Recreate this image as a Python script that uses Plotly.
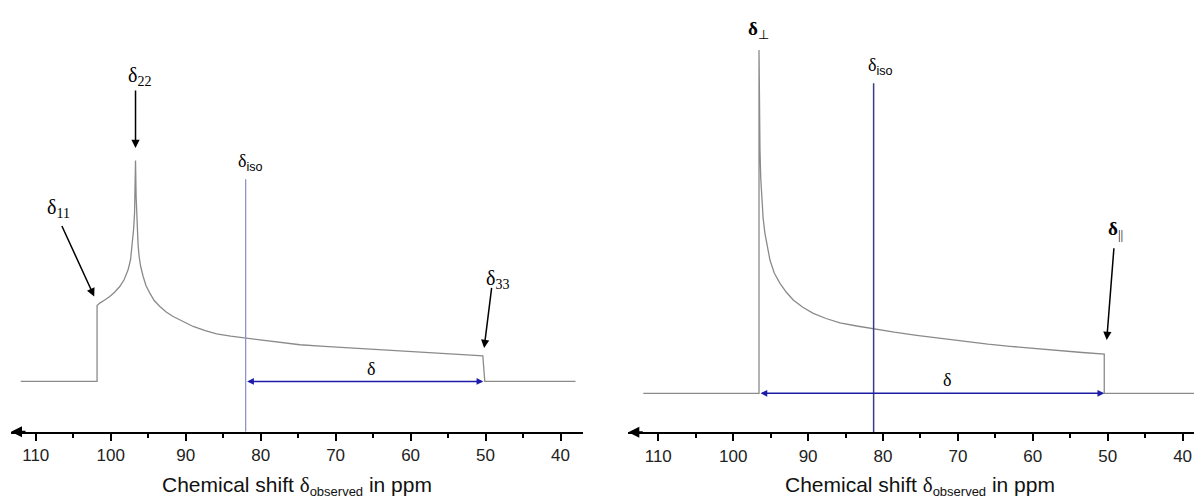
import plotly.graph_objects as go

W, H = 1194, 501

# ---------------- data ----------------
# Left panel: asymmetric CSA powder pattern (ppm, intensity)
left_ppm = [112.0, 101.82, 101.82, 101.46, 100.8, 100.12, 99.45, 98.79, 98.2, 97.68,
            97.35, 97.10, 96.95, 96.82, 96.74, 96.69, 96.61, 96.48, 96.35, 96.21,
            96.0, 95.67, 95.3, 94.78, 94.2, 93.44, 92.6, 91.67, 90.4, 89.0,
            87.5, 85.87, 84.0, 82.0, 78.5, 74.75, 71.5, 68.08, 64.7, 61.4,
            58.0, 54.7, 52.5, 50.36, 50.1, 38.0]
left_int = [0, 0, 76, 78.4, 81.5, 85, 89.5, 95, 102, 111.7,
            122, 138.4, 152, 168.4, 190, 221, 185, 151.7, 137, 125,
            115, 105, 96, 88.4, 81, 75, 69.5, 65, 60, 55,
            51, 47.7, 45.3, 43.4, 39.8, 36.7, 35, 33.4, 31.6, 30,
            28.7, 27.4, 26.5, 25.7, 0, 0]

# Right panel: axially symmetric powder pattern
right_ppm = [112.0, 96.55, 96.55, 96.50, 96.42, 96.32, 96.20, 96.0, 95.76, 95.45,
             95.09, 94.5, 93.75, 92.9, 91.98, 90.7, 89.31, 87.6, 85.74, 83.5,
             81.30, 78.5, 75.50, 72.2, 68.83, 66.0, 63.05, 59.7, 56.37, 53.4,
             50.46, 50.46, 37.0]
right_int = [0, 0, 343.3, 290, 243.3, 215, 193.3, 175, 160, 146,
             133.3, 120, 110, 101, 93.3, 86, 80, 74.8, 70.5, 67.3,
             64.5, 61.1, 58, 54.7, 51.6, 49.2, 47, 44.6, 42.5, 40.8,
             39.3, 0, 0]

# principal components
d11, d22, d33, d_iso_left = 101.82, 96.69, 50.3, 82.0
d_perp, d_par, d_iso_right = 96.55, 50.46, 81.25

tick_vals = [110, 100, 90, 80, 70, 60, 50, 40]
tick_text = ["110", "100", "90", "80", "70", "60", "50", "40"]

# ---------------- figure ----------------
SPEC = "#8a8a8a"
ARR = "#1c1ca8"
SANS = "Liberation Sans, Arial, sans-serif"
SERIF = "Liberation Serif, Times New Roman, serif"

def px(x):
    return x / W

def py(y):
    return 1 - y / H

fig = go.Figure()
fig.add_trace(go.Scatter(x=left_ppm, y=left_int, mode="lines",
                         line=dict(color=SPEC, width=1.3), xaxis="x", yaxis="y",
                         hoverinfo="skip", showlegend=False))
fig.add_trace(go.Scatter(x=right_ppm, y=right_int, mode="lines",
                         line=dict(color=SPEC, width=1.3), xaxis="x2", yaxis="y2",
                         hoverinfo="skip", showlegend=False))

axis_common = dict(showline=True, linecolor="black", linewidth=2,
                   ticks="outside", ticklen=7, tickwidth=2, tickcolor="black",
                   tickvals=tick_vals, ticktext=tick_text,
                   tickfont=dict(family=SANS, size=17, color="#222"),
                   showgrid=False, zeroline=False, fixedrange=True,
                   minor=dict(ticks="outside", ticklen=4, tickwidth=1.5,
                              tickcolor="black", dtick=5, tick0=0, showgrid=False))

L_AX, R_AX = -50.3, -39.0
fig.update_layout(
    width=W, height=H, margin=dict(l=0, r=0, t=0, b=0),
    paper_bgcolor="white", plot_bgcolor="white",
    xaxis=dict(domain=[px(11), px(583)], range=[113.3, 37.0], anchor="y", **axis_common),
    yaxis=dict(domain=[1 - 431.7 / H, 1], range=[L_AX, 381.7], visible=False, fixedrange=True),
    xaxis2=dict(domain=[px(628.3), 1.0], range=[114.0, 38.48], anchor="y2", **axis_common),
    yaxis2=dict(domain=[1 - 432.3 / H, 1], range=[R_AX, 393.3], visible=False, fixedrange=True),
)

# delta_iso lines
fig.add_shape(type="line", xref="x", yref="y", x0=d_iso_left, x1=d_iso_left,
              y0=L_AX, y1=202.4, line=dict(color="#8f93cc", width=1.3))
fig.add_shape(type="line", xref="x2", yref="y2", x0=d_iso_right, x1=d_iso_right,
              y0=R_AX, y1=310, line=dict(color="#3a3f80", width=1.5))

ann = []
# axis arrowheads
for xr, yr, x0, yax in [("x", "y", 113.3, L_AX), ("x2", "y2", 114.0, R_AX)]:
    ann.append(dict(xref=xr, yref=yr, x=x0, y=yax, ax=16, ay=0, text="",
                    showarrow=True, arrowhead=2, arrowsize=1.1, arrowwidth=2,
                    arrowcolor="black", standoff=0))

# double-headed delta arrows
ann.append(dict(xref="x", yref="y", x=d33, y=0, axref="x", ayref="y", ax=d_iso_left, ay=0,
                text="", showarrow=True, arrowside="end+start", arrowhead=2, startarrowhead=2,
                arrowsize=0.9, startarrowsize=0.9, arrowwidth=1.5, arrowcolor=ARR,
                standoff=0, startstandoff=0))
ann.append(dict(xref="x2", yref="y2", x=d_par, y=0, axref="x2", ayref="y2", ax=d_perp, ay=0,
                text="", showarrow=True, arrowside="end+start", arrowhead=2, startarrowhead=2,
                arrowsize=0.9, startarrowsize=0.9, arrowwidth=1.5, arrowcolor=ARR,
                standoff=0, startstandoff=0))

# pointer arrows
def pointer(xr, yr, x, y, ax, ay):
    ann.append(dict(xref=xr, yref=yr, x=x, y=y, ax=ax, ay=ay, text="", showarrow=True,
                    arrowhead=2, arrowsize=1.1, arrowwidth=1.5, arrowcolor="black", standoff=0))

pointer("x", "y", d22, 233.7, 0, -59)
pointer("x", "y", 102.2, 85.0, -33, -72)
pointer("x", "y", 50.19, 33.4, 7.7, -61.6)
pointer("x2", "y2", 50.13, 53.3, 7.3, -93.3)

# text labels
def label(x, y, text, size, family, color="black"):
    ann.append(dict(xref="paper", yref="paper", x=px(x), y=py(y), text=text,
                    showarrow=False, xanchor="center", yanchor="middle",
                    font=dict(size=size, family=family, color=color)))

label(139, 76, "δ<sub>22</sub>", 20, SERIF)
label(58, 208, "δ<sub>11</sub>", 20, SERIF)
label(497, 279, "δ<sub>33</sub>", 20, SERIF)
label(250, 162, "δ<sub><span style='font-family:Liberation Sans'>iso</span></sub>", 18, SERIF)
label(371, 369, "δ", 18, SERIF)

label(758, 30, "<b>δ</b><sub>⊥</sub>", 19, SERIF)
label(880, 66, "δ<sub><span style='font-family:Liberation Sans'>iso</span></sub>", 18, SERIF)
label(1115, 230, "<b>δ</b><sub>||</sub>", 19, SERIF)
label(947, 380, "δ", 18, SERIF)

title = ("Chemical shift <span style='font-family:Liberation Serif'>δ</span>"
         "<sub><span style='font-size:13px'>observed</span></sub> in ppm")
label(297, 486, title, 21, SANS, "#111")
label(920, 486, title, 21, SANS, "#111")

fig.update_layout(annotations=ann)
fig.write_html("out.html")
